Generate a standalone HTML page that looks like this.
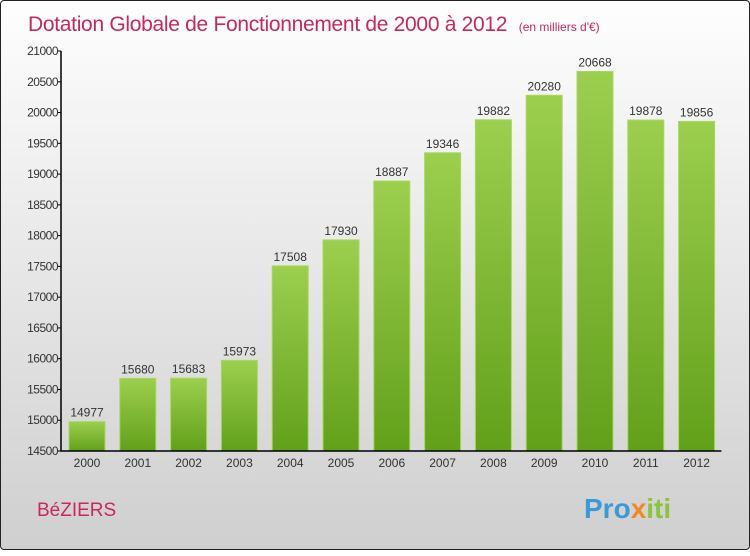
<!DOCTYPE html>
<html><head><meta charset="utf-8"><style>
body{margin:0;width:750px;height:550px;overflow:hidden;font-family:"Liberation Sans",sans-serif}
#frame{position:absolute;left:0;top:0;width:748px;height:548px;border:1px solid #222;border-radius:4px;background:linear-gradient(#fefefe,#cfcfcf)}
</style></head><body>
<div id="frame">
<svg id="chart" width="750" height="550">
<defs><linearGradient id="g" x1="0" y1="0" x2="0" y2="1"><stop offset="0" stop-color="#9ccf4e"/><stop offset="1" stop-color="#62a01a"/></linearGradient></defs>
<text x="27" y="30" font-size="21" letter-spacing="-0.3" fill="#c8285e">Dotation Globale de Fonctionnement de 2000 à 2012 <tspan font-size="12" dx="6" letter-spacing="0">(en milliers d'€)</tspan></text>
<text x="36" y="515" font-size="19" fill="#c8285e">BéZIERS</text>
<text x="583" y="517" font-size="28" font-weight="bold" fill="#f08a1c"><tspan fill="#3a9ad9">Pro</tspan><tspan fill="#f08a1c">x</tspan><tspan fill="#8cc43c">iti</tspan></text>
<g id="plot"></g>
</svg></div>
<script>
const years=["2000","2001","2002","2003","2004","2005","2006","2007","2008","2009","2010","2011","2012"];
const values=[14977,15680,15683,15973,17508,17930,18887,19346,19882,20280,20668,19878,19856];
const ticks=[14500,15000,15500,16000,16500,17000,17500,18000,18500,19000,19500,20000,20500,21000];
const ns="http://www.w3.org/2000/svg",p=document.getElementById("plot");
const X0=60,Y0=450,slot=50.8,ymin=14500,ymax=21000,Ytop=50;
const y=v=>Y0-(v-ymin)/(ymax-ymin)*(Y0-Ytop);
const x=i=>X0+i*slot;
function mk(t,a){const e=document.createElementNS(ns,t);for(const k in a)e.setAttribute(k,a[k]);p.appendChild(e);return e;}
values.forEach((v,i)=>{
 const r=mk("rect",{x:x(i)+8,y:y(v),width:36,height:Y0-y(v),fill:"url(#g)",stroke:"#a8d860","stroke-width":1});
 
 
 const t=mk("text",{x:x(i)+26,y:y(v)-5,"font-size":12,"text-anchor":"middle",fill:"#333"});t.textContent=v;
 
 
 const l=mk("text",{x:x(i)+26,y:Y0+16,"font-size":12,"text-anchor":"middle",fill:"#333"});l.textContent=years[i];
 
 
});
ticks.forEach(v=>{
 mk("line",{x1:X0-3,x2:X0,y1:y(v),y2:y(v),stroke:"#000"});
 const t=mk("text",{x:X0-3,y:y(v)+4,"font-size":12,"text-anchor":"end",fill:"#333","letter-spacing":"-0.5"});t.textContent=v;
 
 
});
const ax=mk("path",{d:`M${X0},${Ytop} V${Y0} H${X0+13*slot}`,stroke:"#000",fill:"none","stroke-width":1.5});


</script>
</body></html>
